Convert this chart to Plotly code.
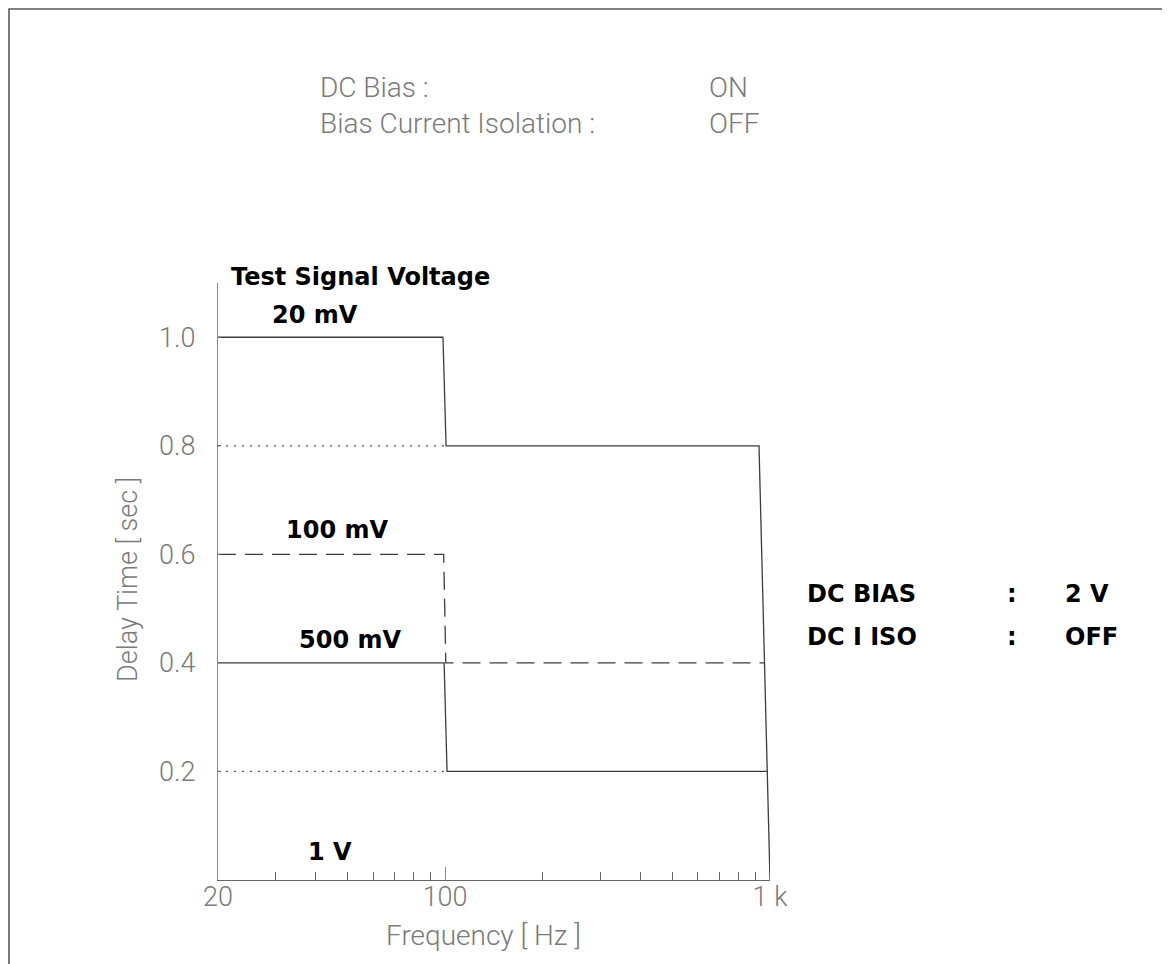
import plotly.graph_objects as go

# ---------------- data ----------------
freq_20mV = [20, 98.5, 100.7, 925, 1000]
delay_20mV = [1.0, 1.0, 0.8, 0.8, 0.0]

freq_100mV = [20, 99.0, 100.5, 965]
delay_100mV = [0.6, 0.6, 0.4, 0.4]

freq_500mV = [20, 99.3, 101.4, 986]
delay_500mV = [0.4, 0.4, 0.2, 0.2]

freq_ref_08 = [20, 100.7]
delay_ref_08 = [0.8, 0.8]
freq_ref_02 = [20, 101.4]
delay_ref_02 = [0.2, 0.2]

x_major_vals = [20, 100, 1000]
x_major_text = ["20", "100", "1 k"]
x_minor_vals = [30, 40, 50, 60, 70, 80, 90, 200, 300, 400, 500, 600, 700, 800, 900]
y_tick_vals = [0.2, 0.4, 0.6, 0.8, 1.0]
y_tick_text = ["0.2", "0.4", "0.6", "0.8", "1.0"]

voltage_labels = ["20 mV", "100 mV", "500 mV", "1 V"]

# ---------------- styles ----------------
LINE = "#3c3c3c"
THIN_FONT = dict(family="Roboto, Liberation Sans, sans-serif", color="#7a7a7a", size=27, weight=300)
BOLD_FONT = dict(family="DejaVu Sans, sans-serif", color="#000000", size=24, weight="bold")

fig = go.Figure()

fig.add_trace(go.Scatter(x=freq_ref_08, y=delay_ref_08, mode="lines",
                         line=dict(color="#555555", width=1.2, dash="2px,6px"), hoverinfo="skip"))
fig.add_trace(go.Scatter(x=freq_ref_02, y=delay_ref_02, mode="lines",
                         line=dict(color="#555555", width=1.2, dash="2px,6px"), hoverinfo="skip"))
fig.add_trace(go.Scatter(x=freq_20mV, y=delay_20mV, mode="lines", name=voltage_labels[0],
                         line=dict(color=LINE, width=1.3)))
fig.add_trace(go.Scatter(x=freq_100mV, y=delay_100mV, mode="lines", name=voltage_labels[1],
                         line=dict(color=LINE, width=1.3, dash="18px,9px")))
fig.add_trace(go.Scatter(x=freq_500mV, y=delay_500mV, mode="lines", name=voltage_labels[2],
                         line=dict(color=LINE, width=1.3)))

# page offset of the plot div (body margin)
OFF = 8
W, H = 1162, 956
L, R, T, B = 210, 400, 275, 84
pw, ph = W - L - R, H - T - B


def px(x):
    return (x - OFF - L) / pw


def py(y):
    return (H - B - (y - OFF)) / ph


annotations = []


def add_text(text, x, y, font, xanchor="left", angle=0):
    annotations.append(dict(text=text, x=px(x), y=py(y), xref="paper", yref="paper",
                            xanchor=xanchor, yanchor="middle", showarrow=False, font=font,
                            textangle=angle))


add_text("Test Signal Voltage", 229, 277, BOLD_FONT)
add_text(voltage_labels[0], 315, 315, BOLD_FONT, "center")
add_text(voltage_labels[1], 337, 530, BOLD_FONT, "center")
add_text(voltage_labels[2], 350, 640, BOLD_FONT, "center")
add_text(voltage_labels[3], 330, 852, BOLD_FONT, "center")

TOP_FONT = dict(THIN_FONT, size=28)
add_text("DC Bias :", 318, 87, TOP_FONT)
add_text("ON", 707, 87, TOP_FONT)
add_text("Bias Current Isolation :", 318, 123, TOP_FONT)
add_text("OFF", 707, 123, TOP_FONT)

add_text("DC BIAS", 805, 594, BOLD_FONT)
add_text(":", 1012, 594, BOLD_FONT, "center")
add_text("2 V", 1063, 594, BOLD_FONT)
add_text("DC I ISO", 805, 637, BOLD_FONT)
add_text(":", 1012, 637, BOLD_FONT, "center")
add_text("OFF", 1063, 637, BOLD_FONT)

add_text("Delay Time [ sec ]", 128, 580, THIN_FONT, "center", -90)
add_text("Frequency [ Hz ]", 483, 935, dict(THIN_FONT, size=28), "center")

fig.update_layout(
    width=W, height=H,
    margin=dict(l=L, r=R, t=T, b=B, autoexpand=False),
    paper_bgcolor="white", plot_bgcolor="white",
    showlegend=False,
    annotations=annotations,
    shapes=[dict(type="rect", xref="paper", yref="paper",
                 x0=px(9), x1=px(1250), y0=py(1100), y1=py(9),
                 line=dict(color="#5a5a5a", width=1.6), fillcolor="rgba(0,0,0,0)", layer="above")],
)

fig.update_xaxes(
    type="log", range=[1.30103, 3.0],
    showgrid=False, zeroline=False,
    showline=True, linecolor="#666666", linewidth=1.3,
    tickmode="array", tickvals=x_major_vals, ticktext=x_major_text,
    ticks="inside", ticklen=13, tickcolor="#888888", tickwidth=1,
    minor=dict(tickmode="array", tickvals=x_minor_vals, ticks="inside", ticklen=8,
               tickcolor="#666666", tickwidth=1, showgrid=False),
    tickfont=THIN_FONT, ticklabelstandoff=-8,
)
fig.update_yaxes(
    range=[0, 1.1],
    showgrid=False, zeroline=False,
    showline=True, linecolor="#888888", linewidth=1.2,
    tickmode="array", tickvals=y_tick_vals, ticktext=y_tick_text,
    ticks="inside", ticklen=3, tickcolor="#666666",
    tickfont=THIN_FONT, ticklabelstandoff=16,
)

fig.write_html("out.html")
